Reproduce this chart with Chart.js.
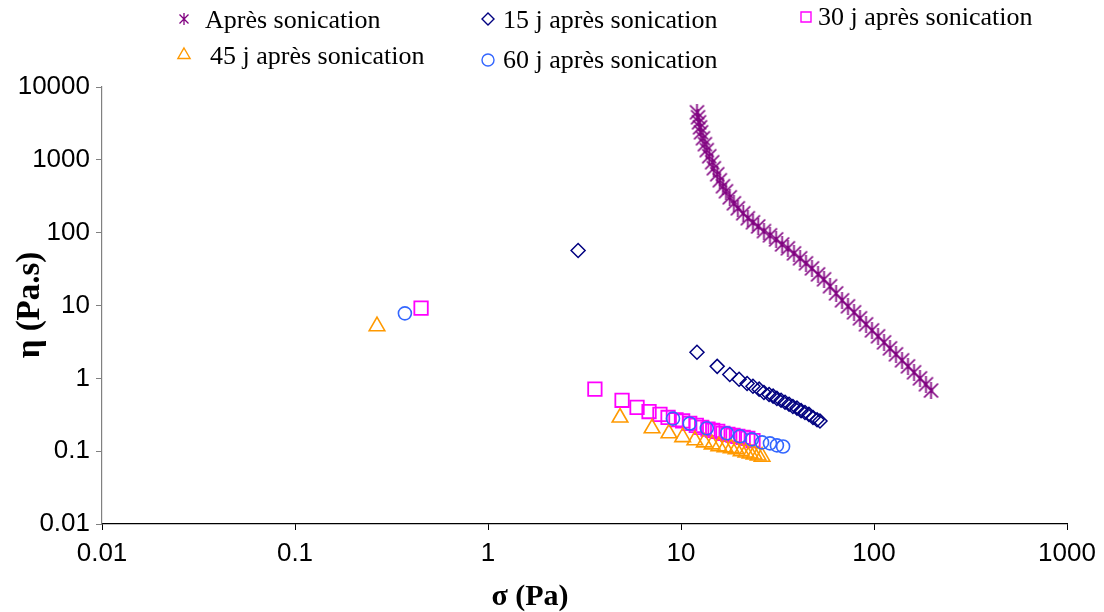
<!DOCTYPE html>
<html>
<head>
<meta charset="utf-8">
<script src="https://cdn.jsdelivr.net/npm/chart.js@4.4.0/dist/chart.umd.min.js"></script>
<style>
  html, body { margin: 0; padding: 0; background: #fff; }
  #wrap { width: 1104px; height: 612px; }
</style>
</head>
<body>
<div id="wrap"><canvas id="viscoChart" width="1104" height="612"></canvas></div>
<script>
// values (sigma in Pa, eta in Pa.s)
const sigmaApres = [12.1, 12.25, 12.4, 12.55, 12.7, 13.0, 13.3, 13.6, 14.0, 14.5, 14.8, 15.4, 15.9, 16.5, 17.1, 17.9, 18.8, 19.7, 21.0, 22.2,
  23.6, 25.1, 26.9, 28.9, 31.1, 33.4, 35.8, 38.5, 41.4, 44.4, 47.7, 51.3, 55.1, 59.2, 63.6, 68.3, 73.3, 78.8, 84.6, 90.9,
  97.6, 104.9, 112.7, 121.0, 130.0, 139.7, 150.0, 161.2, 173.1, 185.9, 197.4];
const etaApres = [4500, 3850, 3280, 2800, 2390, 1980, 1640, 1360, 1120, 927, 767, 634, 525, 434, 371, 306, 253, 216, 185, 158,
  139, 122, 105, 92, 81, 69, 61, 52, 44.5, 38, 32.4, 26.8, 22.9, 18.4, 14.7, 11.8, 9.75, 8.07, 6.67, 5.52,
  4.56, 3.78, 3.12, 2.58, 2.14, 1.77, 1.46, 1.21, 1.0, 0.83, 0.68];

const sigma15j = [2.93, 12.1, 15.4, 17.9, 20.0, 22.0, 23.6, 25.4, 26.9, 28.6, 30.0, 31.4, 33.0, 34.6, 36.3, 38.0, 39.9, 41.9, 43.9, 46.0, 48.3, 50.7, 52.5];
const eta15j = [57, 2.28, 1.46, 1.13, 0.97, 0.85, 0.78, 0.71, 0.64, 0.60, 0.57, 0.53, 0.50, 0.47, 0.44, 0.41, 0.39, 0.36, 0.34, 0.32, 0.29, 0.27, 0.26];

const sigma30j = [0.45, 3.58, 4.95, 5.92, 6.83, 7.78, 8.57, 9.42, 10.2, 11.1, 12.0, 12.8, 13.8, 14.6, 15.5, 16.5, 17.5, 18.6, 19.7, 21.0, 22.2, 23.6];
const eta30j = [9.2, 0.71, 0.50, 0.40, 0.35, 0.32, 0.29, 0.27, 0.26, 0.24, 0.226, 0.212, 0.20, 0.193, 0.187, 0.176, 0.170, 0.165, 0.160, 0.155, 0.150, 0.14];

const sigma45j = [0.266, 4.83, 7.08, 8.66, 10.2, 11.8, 13.2, 14.5, 15.7, 16.9, 18.2, 19.3, 20.5, 21.7, 22.8, 23.9, 25.1, 26.3];
const eta45j = [5.2, 0.29, 0.206, 0.176, 0.156, 0.141, 0.132, 0.124, 0.117, 0.113, 0.110, 0.106, 0.100, 0.096, 0.093, 0.090, 0.087, 0.084];

const sigma60j = [0.371, 9.09, 11.1, 13.6, 17.3, 20.2, 23.3, 26.3, 28.9, 31.4, 33.8];
const eta60j = [7.8, 0.28, 0.24, 0.206, 0.176, 0.160, 0.145, 0.132, 0.128, 0.120, 0.116];

const seriesLabels = ['Après sonication', '15 j après sonication', '30 j après sonication', '45 j après sonication', '60 j après sonication'];
const sigmaTicks = [0.01, 0.1, 1, 10, 100, 1000];
const etaTicks = [0.01, 0.1, 1, 10, 100, 1000, 10000];
const xTitle = 'σ (Pa)';
const yTitle = 'η (Pa.s)';

function toPoints(xs, ys) {
    return xs.map((x, i) => ({ x: x, y: ys[i] }));
}

// Excel style asterisk: an X with a vertical bar through it
function makeStar(size, color, lw) {
    const c = document.createElement('canvas');
    c.width = size;
    c.height = size;
    const g = c.getContext('2d');
    g.strokeStyle = color;
    g.lineWidth = lw;
    const a = 1.5, b = size - 1.5;
    g.beginPath();
    g.moveTo(a, a); g.lineTo(b, b);
    g.moveTo(b, a); g.lineTo(a, b);
    g.moveTo(size / 2, 0); g.lineTo(size / 2, size);
    g.stroke();
    return c;
}

const purple = '#800080';
const navy = '#000080';
const magenta = '#FF00FF';
const orange = '#FF9900';
const blue = '#3366FF';

const starBig = makeStar(17, purple, 1.7);
const starSmall = makeStar(12, purple, 1.3);

function drawMarker(ctx, style, x, y, r, color) {
    ctx.save();
    ctx.strokeStyle = color;
    ctx.lineWidth = 1.4;
    ctx.beginPath();
    if (style === 'star') {
        ctx.drawImage(starSmall, x - starSmall.width / 2, y - starSmall.height / 2);
    } else if (style === 'rectRot') {
        ctx.moveTo(x, y - r); ctx.lineTo(x + r, y); ctx.lineTo(x, y + r); ctx.lineTo(x - r, y); ctx.closePath();
    } else if (style === 'rect') {
        ctx.rect(x - r, y - r, 2 * r, 2 * r);
    } else if (style === 'triangle') {
        ctx.moveTo(x, y - r); ctx.lineTo(x + r * 0.87, y + r * 0.5); ctx.lineTo(x - r * 0.87, y + r * 0.5); ctx.closePath();
    } else {
        ctx.arc(x, y, r, 0, Math.PI * 2);
    }
    ctx.stroke();
    ctx.restore();
}

// legend laid out as in the original (two rows, aligned columns)
const gridLegend = {
    id: 'gridLegend',
    afterDraw(chart) {
        const ctx = chart.ctx;
        const spots = [
            { mx: 184, my: 19, r: 5, tx: 205, ty: 28 },
            { mx: 488, my: 19, r: 6, tx: 503, ty: 28 },
            { mx: 806, my: 17, r: 5, tx: 818, ty: 25 },
            { mx: 184, my: 55, r: 7, tx: 210, ty: 64 },
            { mx: 488, my: 60, r: 6, tx: 503, ty: 68 }
        ];
        ctx.save();
        ctx.font = '26px "Liberation Serif", "Times New Roman", serif';
        ctx.fillStyle = '#000';
        ctx.textBaseline = 'alphabetic';
        chart.data.datasets.forEach((ds, i) => {
            const s = spots[i];
            const style = ds.pointStyle instanceof HTMLCanvasElement ? 'star' : ds.pointStyle;
            drawMarker(ctx, style, s.mx, s.my, s.r, ds.borderColor);
            ctx.fillText(ds.label, s.tx, s.ty);
        });
        ctx.restore();
    }
};

const axisTitles = {
    id: 'axisTitles',
    afterDraw(chart) {
        const ctx = chart.ctx;
        ctx.save();
        ctx.fillStyle = '#000';
        ctx.textAlign = 'center';
        ctx.textBaseline = 'middle';
        ctx.font = 'bold 30px "Liberation Serif", "Times New Roman", serif';
        ctx.fillText(xTitle, 530, 597);
        ctx.font = 'bold 33px "Liberation Serif", "Times New Roman", serif';
        ctx.translate(30, 305);
        ctx.rotate(-Math.PI / 2);
        ctx.fillText(yTitle, 0, 0);
        ctx.restore();
    }
};

const tickFont = { family: '"Liberation Sans", Arial, sans-serif', size: 26 };

const ctx = document.getElementById('viscoChart').getContext('2d');
new Chart(ctx, {
    type: 'scatter',
    data: {
        datasets: [{
            label: seriesLabels[0],
            data: toPoints(sigmaApres, etaApres),
            pointStyle: starBig,
            borderColor: purple,
            backgroundColor: 'transparent',
            order: 5
        }, {
            label: seriesLabels[1],
            data: toPoints(sigma15j, eta15j),
            pointStyle: 'rectRot',
            pointRadius: 7,
            borderColor: navy,
            backgroundColor: 'transparent',
            borderWidth: 1.5,
            order: 4
        }, {
            label: seriesLabels[2],
            data: toPoints(sigma30j, eta30j),
            pointStyle: 'rect',
            pointRadius: 9.5,
            borderColor: magenta,
            backgroundColor: 'transparent',
            borderWidth: 1.8,
            order: 3
        }, {
            label: seriesLabels[3],
            data: toPoints(sigma45j, eta45j),
            pointStyle: 'triangle',
            pointRadius: 9,
            borderColor: orange,
            backgroundColor: 'transparent',
            borderWidth: 1.6,
            order: 2
        }, {
            label: seriesLabels[4],
            data: toPoints(sigma60j, eta60j),
            pointStyle: 'circle',
            pointRadius: 6.5,
            borderColor: blue,
            backgroundColor: 'transparent',
            borderWidth: 1.6,
            order: 1
        }]
    },
    options: {
        responsive: false,
        animation: false,
        events: [],
        layout: { padding: { top: 87, right: 37, bottom: 0, left: 0 } },
        plugins: {
            legend: { display: false },
            tooltip: { enabled: false }
        },
        scales: {
            x: {
                type: 'logarithmic',
                min: 0.01,
                max: 1000,
                afterBuildTicks: function(scale) { scale.ticks = sigmaTicks.map(v => ({ value: v })); },
                afterFit: function(scale) { scale.height = 88; },
                ticks: {
                    callback: v => String(v),
                    font: tickFont,
                    color: '#000',
                    padding: 8,
                    maxRotation: 0,
                    autoSkip: false
                },
                grid: { drawOnChartArea: false, tickLength: 6, color: '#000' },
                border: { color: '#000', width: 1.2 }
            },
            y: {
                type: 'logarithmic',
                min: 0.01,
                max: 10000,
                afterBuildTicks: function(scale) { scale.ticks = etaTicks.map(v => ({ value: v })); },
                afterFit: function(scale) { scale.width = 102; },
                ticks: {
                    callback: v => String(v),
                    font: tickFont,
                    color: '#000',
                    padding: 6,
                    autoSkip: false
                },
                grid: { drawOnChartArea: false, tickLength: 6, color: '#808080' },
                border: { color: '#808080', width: 1.2 }
            }
        }
    },
    plugins: [gridLegend, axisTitles]
});
</script>
</body>
</html>
